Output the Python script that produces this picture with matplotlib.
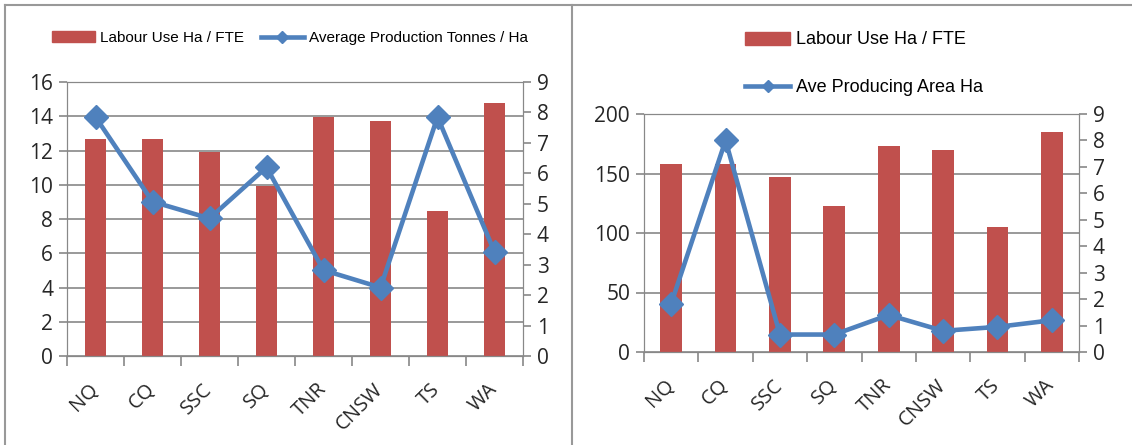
import matplotlib.pyplot as plt
import matplotlib.lines as mlines
import matplotlib.patches as mpatches
import numpy as np

regions = ["NQ", "CQ", "SSC", "SQ", "TNR", "CNSW", "TS", "WA"]

# left chart
labour_ha_fte = [12.65, 12.65, 11.9, 9.9, 13.95, 13.7, 8.45, 14.8]
avg_prod_t_ha = [7.85, 5.07, 4.52, 6.2, 2.82, 2.25, 7.85, 3.42]

# right chart
labour_use_ha = [158, 158, 147, 123, 173, 170, 105, 185]
ave_area_ha = [1.83, 8.0, 0.66, 0.66, 1.4, 0.8, 0.95, 1.2]

RED = "#C0504D"
BLUE = "#4F81BD"
GRID = "#888888"
TXT = "#262626"

leg_font = "Liberation Sans"
num_font = "Open Sans"

W, H = 1132, 445
fig = plt.figure(figsize=(W / 100, H / 100), dpi=100)


def box(x0, y0, x1, y1):
    return [x0 / W, 1 - y1 / H, (x1 - x0) / W, (y1 - y0) / H]


def draw(ax, bars, line, ymax, ystep, bar_w):
    x = np.arange(len(regions))
    ax.bar(x, bars, width=bar_w, color=RED, zorder=2)
    ax.set_xlim(-0.5, len(regions) - 0.5)
    ax.set_ylim(0, ymax)
    ax.set_yticks(np.arange(0, ymax + 1, ystep))
    ax.yaxis.grid(True, color=GRID, lw=1.2, zorder=0)
    ax.set_axisbelow(True)
    for s in ax.spines.values():
        s.set_color(GRID)
    ax.set_xticks(x)
    ax.set_xticklabels(regions, rotation=45, ha="right", va="center",
                       rotation_mode="anchor", fontsize=14.5, family=num_font, color=TXT)
    ax.tick_params(axis="x", length=0, pad=22)
    ax.set_xticks(np.arange(-0.5, len(regions)), minor=True)
    ax.tick_params(axis="x", which="minor", length=7, color=GRID, width=1.2)
    ax.tick_params(axis="y", length=6, color=GRID, width=1.2, labelsize=15,
                   labelcolor=TXT, pad=4)
    for t in ax.get_yticklabels():
        t.set_family(num_font)

    ax2 = ax.twinx()
    ax2.plot(x, line, color=BLUE, lw=3.3, marker="D", ms=12, zorder=3)
    ax2.set_ylim(0, 9)
    ax2.set_yticks(range(10))
    ax2.tick_params(axis="y", length=6, color=GRID, width=1.2, labelsize=15,
                    labelcolor=TXT, pad=4)
    for t in ax2.get_yticklabels():
        t.set_family(num_font)
    for s in ax2.spines.values():
        s.set_color(GRID)
    return ax2


ax1 = fig.add_axes(box(67, 82, 523, 356))
draw(ax1, labour_ha_fte, avg_prod_t_ha, 16, 2, 0.38)

ax3 = fig.add_axes(box(644, 114, 1079, 352))
draw(ax3, labour_use_ha, ave_area_ha, 200, 50, 0.4)

bar_h = mpatches.Patch(color=RED)
line_h = mlines.Line2D([], [], color=BLUE, lw=3.3, marker="D", ms=6)

fig.legend([bar_h, line_h], ["Labour Use Ha / FTE", "Average Production Tonnes / Ha"],
           loc="center left", bbox_to_anchor=(52 / W, 1 - 38 / H), ncol=2, frameon=False,
           prop={"family": leg_font, "size": 11}, handlelength=2.8, handletextpad=0.35,
           columnspacing=1.1, borderpad=0, borderaxespad=0)

fig.legend([bar_h], ["Labour Use Ha / FTE"],
           loc="center left", bbox_to_anchor=(745 / W, 1 - 40 / H), frameon=False,
           prop={"family": leg_font, "size": 13}, handlelength=2.5, handletextpad=0.3,
           borderpad=0, borderaxespad=0)
fig.legend([line_h], ["Ave Producing Area Ha"],
           loc="center left", bbox_to_anchor=(745 / W, 1 - 88 / H), frameon=False,
           prop={"family": leg_font, "size": 13}, handlelength=2.5, handletextpad=0.3,
           borderpad=0, borderaxespad=0)

# panel borders
frame = dict(color="#999999", lw=1.5, transform=fig.transFigure)
fig.add_artist(mlines.Line2D([5 / W, 5 / W], [0, 1 - 5 / H], **frame))
fig.add_artist(mlines.Line2D([5 / W, 1], [1 - 5 / H, 1 - 5 / H], **frame))
fig.add_artist(mlines.Line2D([572 / W, 572 / W], [0, 1 - 5 / H], **frame))

fig.savefig("out.png", dpi=100)
